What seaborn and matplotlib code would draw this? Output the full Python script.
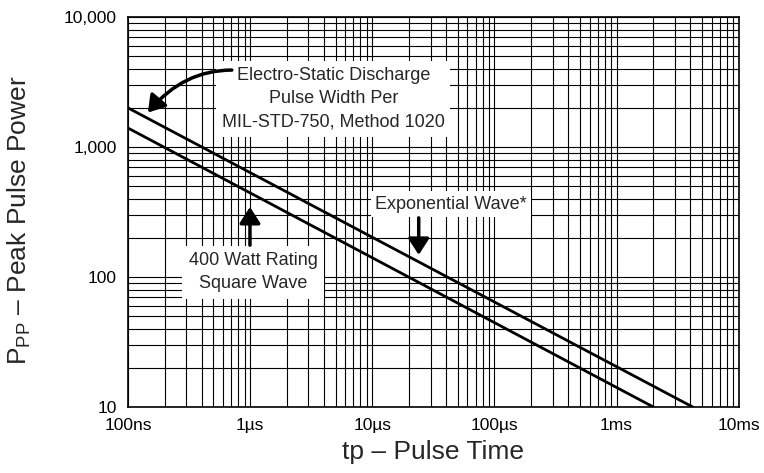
import matplotlib
matplotlib.use("Agg")
import matplotlib.pyplot as plt
import matplotlib.ticker as mticker
import seaborn as sns
import pandas as pd

# pulse time (s) and peak pulse power (W), end points of the straight log-log curves
exp_time = [1e-7, 4.2e-3]
exp_power = [2000, 10]
sq_time = [1e-7, 2.0e-3]
sq_power = [1400, 10]

x_ticks = [1e-7, 1e-6, 1e-5, 1e-4, 1e-3, 1e-2]
x_labels = ["100ns", "1µs", "10µs", "100µs", "1ms", "10ms"]
y_ticks = [10, 100, 1000, 10000]
y_labels = ["10", "100", "1,000", "10,000"]

df = pd.concat([
    pd.DataFrame({"tp": exp_time, "ppp": exp_power, "curve": "Exponential Wave"}),
    pd.DataFrame({"tp": sq_time, "ppp": sq_power, "curve": "Square Wave"}),
])

sns.set_style("white")
plt.rcParams["font.family"] = ["Liberation Sans", "DejaVu Sans"]
plt.rcParams["mathtext.fontset"] = "custom"
plt.rcParams["mathtext.rm"] = "Liberation Sans"

fig = plt.figure(figsize=(7.64, 4.73), dpi=100)
ax = fig.add_axes([0.1675, 0.1395, 0.7995, 0.8245])
ax.set_xscale("log")
ax.set_yscale("log")

sns.lineplot(data=df, x="tp", y="ppp", units="curve", estimator=None,
             color="black", lw=2.0, ax=ax, legend=False)

ax.set_xlim(1e-7, 1e-2)
ax.set_ylim(10, 10000)
ax.xaxis.set_minor_locator(mticker.LogLocator(base=10, subs=range(2, 10)))
ax.yaxis.set_minor_locator(mticker.LogLocator(base=10, subs=range(2, 10)))
ax.xaxis.set_minor_formatter(mticker.NullFormatter())
ax.yaxis.set_minor_formatter(mticker.NullFormatter())
ax.set_xticks(x_ticks, x_labels)
ax.set_yticks(y_ticks, y_labels)
ax.tick_params(which="both", length=0, labelsize=12.5, colors="black", pad=8)
ax.grid(True, which="both", color="black", lw=0.8)
for s in ax.spines.values():
    s.set_color("black")
    s.set_linewidth(1.2)

ax.set_xlabel("tp – Pulse Time", fontsize=19, labelpad=5)
ax.set_ylabel(r"P$_\mathregular{PP}$ – Peak Pulse Power", fontsize=19)
ax.yaxis.set_label_coords(-0.155, 0.48)

ax.text(0.336, 0.79, "Electro-Static Discharge\nPulse Width Per\nMIL-STD-750, Method 1020",
        transform=ax.transAxes, ha="center", va="center", fontsize=13,
        linespacing=1.5, bbox=dict(facecolor="white", edgecolor="none", pad=4), zorder=5)
ax.text(0.529, 0.5205, "Exponential Wave*", transform=ax.transAxes,
        ha="center", va="center", fontsize=13,
        bbox=dict(facecolor="white", edgecolor="none", pad=3), zorder=5)
ax.text(0.205, 0.346, "400 Watt Rating\nSquare Wave", transform=ax.transAxes,
        ha="center", va="center", fontsize=13, linespacing=1.4,
        bbox=dict(facecolor="white", edgecolor="none", pad=5), zorder=5)

arrow = dict(arrowstyle="-|>,head_length=0.7,head_width=0.45", color="black",
             lw=2.5, shrinkA=0, shrinkB=0, mutation_scale=14)
ax.annotate("", xy=(0.0327, 0.755), xytext=(0.17, 0.864),
            xycoords="axes fraction", textcoords="axes fraction",
            arrowprops=dict(arrow, connectionstyle="angle3,angleA=0,angleB=50"), zorder=6)
ax.annotate("", xy=(0.476, 0.390), xytext=(0.476, 0.485),
            xycoords="axes fraction", textcoords="axes fraction",
            arrowprops=arrow, zorder=6)
ax.annotate("", xy=(0.1997, 0.513), xytext=(0.1997, 0.415),
            xycoords="axes fraction", textcoords="axes fraction",
            arrowprops=arrow, zorder=6)

fig.savefig("out.png", dpi=100)
